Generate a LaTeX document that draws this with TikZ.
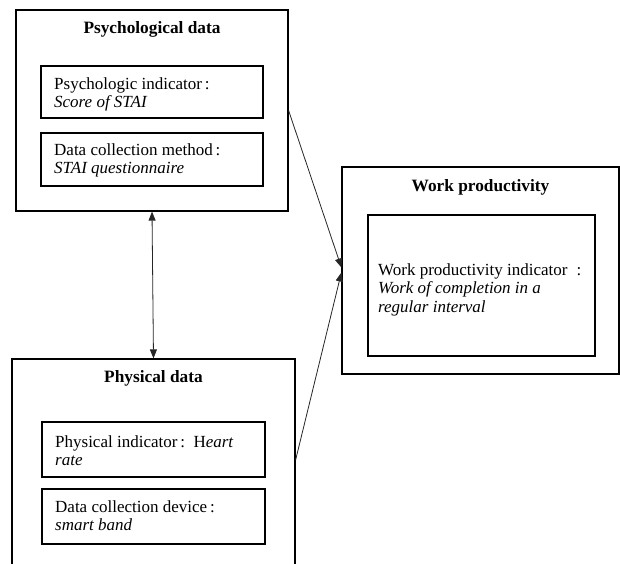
\documentclass[tikz,border=0pt]{standalone}
\usepackage{fontspec}
\setmainfont{Liberation Serif}
\usetikzlibrary{arrows.meta}
\begin{document}
\begin{tikzpicture}[x=1pt,y=-1pt,
  box/.style={draw,line width=1.2pt,rectangle,inner sep=0pt},
  txt/.style={font=\fontsize{17}{18.5}\selectfont,align=left,anchor=base west,inner sep=0pt},
  ttl/.style={font=\fontsize{17.3}{18.5}\selectfont\bfseries,anchor=base,inner sep=0pt},
  conn/.style={draw=black!85,line width=0.8pt,-{Triangle[length=9pt,width=7pt]}},
  biconn/.style={draw=black!85,line width=0.8pt,{Triangle[length=9pt,width=7pt]}-{Triangle[length=9pt,width=7pt]}}
]
\clip (0,0) rectangle (620,563);
\path[use as bounding box] (0,0) rectangle (620,563);

% Psychological data
\node[box,minimum width=272pt,minimum height=201pt] (psych) at (152,110.5) {};
\node[ttl] (psychT) at (152,33) {Psychological data};
\node[box,minimum width=222pt,minimum height=52pt] (p1) at (152,92) {};
\node[txt] (p1T) at (54,107.5) {Psychologic indicator\,:\\\textit{Score of STAI}};
\node[box,minimum width=222pt,minimum height=53pt] (p2) at (152,159.5) {};
\node[txt] (p2T) at (54,173.5) {Data collection method\,:\\\textit{STAI questionnaire}};

% Physical data
\node[box,minimum width=283pt,minimum height=230pt] (phys) at (153.5,474) {};
\node[ttl] (physT) at (153.5,382) {Physical data};
\node[box,minimum width=223pt,minimum height=55pt] (h1) at (153.5,449.5) {};
\node[txt] (h1T) at (55,465.5) {Physical indicator\,:\ \ H\textit{eart}\\\textit{rate}};
\node[box,minimum width=223pt,minimum height=55pt] (h2) at (153.5,516.5) {};
\node[txt] (h2T) at (55,530.5) {Data collection device\,:\\\textit{smart band}};

% Work productivity
\node[box,minimum width=277pt,minimum height=207pt] (work) at (480.5,270.5) {};
\node[ttl] (workT) at (480.5,191) {Work productivity};
\node[box,minimum width=227pt,minimum height=141pt] (w1) at (481.5,285.5) {};
\node[txt] (w1T) at (378,312) {Work productivity indicator\hspace{9pt}:\\\textit{Work of completion in a}\\\textit{regular interval}};

% connectors
\draw[conn] (psych.east) -- ([yshift=3pt]work.west);
\draw[conn] ([yshift=14pt]phys.east) -- ([yshift=-2pt]work.west);
\draw[biconn] (psych.south) -- (phys.north);
\end{tikzpicture}
\end{document}
